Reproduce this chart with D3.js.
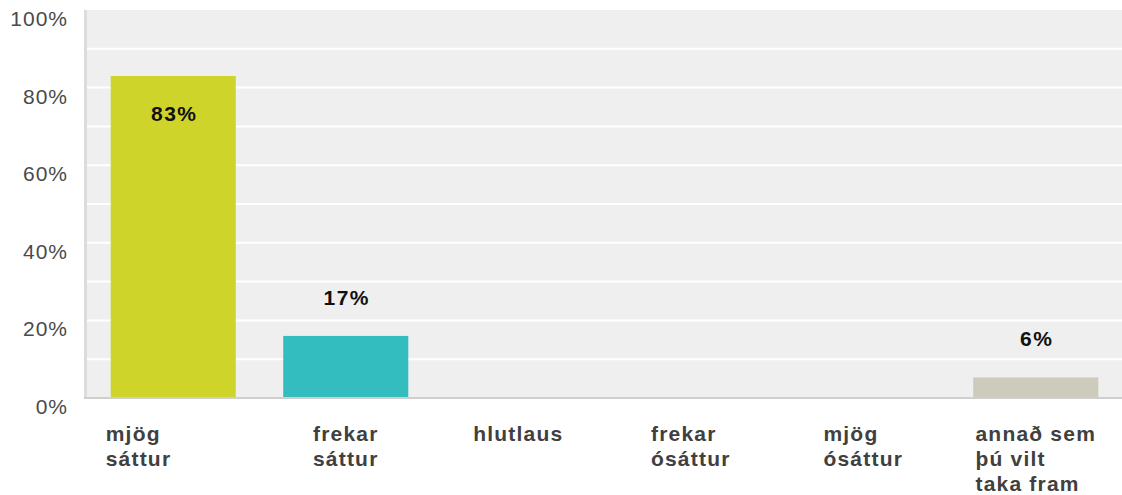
<!DOCTYPE html>
<html>
<head>
<meta charset="utf-8">
<script src="https://cdn.jsdelivr.net/npm/d3@7"></script>
<style>
  body { margin: 0; background: #fff; }
  svg { display: block; font-family: "Liberation Sans", Arial, sans-serif; }
</style>
</head>
<body>
<div id="chart"></div>
<script>
// answer categories, each split into the lines shown under the axis
const categories = ["mjög sáttur", "frekar sáttur", "hlutlaus", "frekar ósáttur", "mjög ósáttur", "annað sem þú vilt taka fram"];
const categoryLines = [["mjög", "sáttur"], ["frekar", "sáttur"], ["hlutlaus"], ["frekar", "ósáttur"], ["mjög", "ósáttur"], ["annað sem", "þú vilt", "taka fram"]];
// bar heights as drawn, and the labels printed over them
const values = [83, 16, 0, 0, 0, 5.3];
const valueLabels = ["83%", "17%", "", "", "", "6%"];
const barColors = ["#cfd42a", "#33bdbf", "#cfd42a", "#33bdbf", "#cfd42a", "#cdcbbb"];
const yTicks = [0, 20, 40, 60, 80, 100];

const width = 1122, height = 495;
const margin = { top: 10, right: 0, bottom: 97, left: 87 };

const svg = d3.select("#chart").append("svg")
    .attr("width", width)
    .attr("height", height);

const x = d3.scaleBand()
    .domain(categories)
    .range([margin.left, width - margin.right])
    .paddingInner(0.275)
    .paddingOuter(0.1375);

const y = d3.scaleLinear()
    .domain([0, 100])
    .range([height - margin.bottom, margin.top]);

// plot background
svg.append("rect")
    .attr("x", margin.left)
    .attr("y", margin.top)
    .attr("width", width - margin.left - margin.right)
    .attr("height", y(0) - margin.top)
    .attr("fill", "#efefef");

// white gridlines every 10%
svg.selectAll("line.grid")
    .data(d3.range(10, 100, 10))
    .enter()
    .append("line")
    .attr("class", "grid")
    .attr("x1", margin.left)
    .attr("x2", width - margin.right)
    .attr("y1", d => y(d))
    .attr("y2", d => y(d))
    .attr("stroke", "#fff")
    .attr("stroke-width", 2);

// left axis line
svg.append("line")
    .attr("x1", margin.left - 1.5)
    .attr("x2", margin.left - 1.5)
    .attr("y1", margin.top)
    .attr("y2", y(0))
    .attr("stroke", "#dcdcdc")
    .attr("stroke-width", 3);

// y tick labels
svg.selectAll("text.ytick")
    .data(yTicks)
    .enter()
    .append("text")
    .attr("class", "ytick")
    .attr("x", 68)
    .attr("y", d => y(d) + 16)
    .attr("text-anchor", "end")
    .attr("font-size", 21)
    .attr("letter-spacing", 1)
    .attr("fill", "#4a4a4a")
    .text(d => d + "%");

// bars
svg.selectAll("rect.bar")
    .data(values)
    .enter()
    .append("rect")
    .attr("class", "bar")
    .attr("x", (d, i) => x(categories[i]))
    .attr("y", d => y(d))
    .attr("width", x.bandwidth())
    .attr("height", d => y(0) - y(d))
    .attr("fill", (d, i) => barColors[i]);

// bottom axis line
svg.append("line")
    .attr("x1", margin.left - 3)
    .attr("x2", width)
    .attr("y1", y(0))
    .attr("y2", y(0))
    .attr("stroke", "#cfcfcf")
    .attr("stroke-width", 2);

// value labels: inside tall bars, above short ones
svg.selectAll("text.value")
    .data(values)
    .enter()
    .append("text")
    .attr("class", "value")
    .attr("x", (d, i) => x(categories[i]) + x.bandwidth() / 2 + 1)
    .attr("y", d => d > 50 ? y(d) + 45 : y(d) - 31)
    .attr("text-anchor", "middle")
    .attr("font-size", 21)
    .attr("font-weight", "bold")
    .attr("letter-spacing", 1.5)
    .attr("fill", "#111")
    .text((d, i) => valueLabels[i]);

// category labels, left aligned block centred under each bar
const labels = svg.selectAll("g.cat")
    .data(categoryLines)
    .enter()
    .append("g")
    .attr("class", "cat");

labels.append("text")
    .attr("font-size", 21)
    .attr("font-weight", "bold")
    .attr("letter-spacing", 1.2)
    .attr("fill", "#404040")
    .selectAll("tspan")
    .data(d => d)
    .enter()
    .append("tspan")
    .attr("x", 0)
    .attr("y", (d, j) => 441 + j * 25)
    .text(d => d);

labels.attr("transform", function(d, i) {
    const w = this.getBBox().width;
    let left = x(categories[i]) + x.bandwidth() / 2 - w / 2;
    if (i === 0) left = x(categories[i]) - 5;
    return "translate(" + left + ",0)";
});
</script>
</body>
</html>
